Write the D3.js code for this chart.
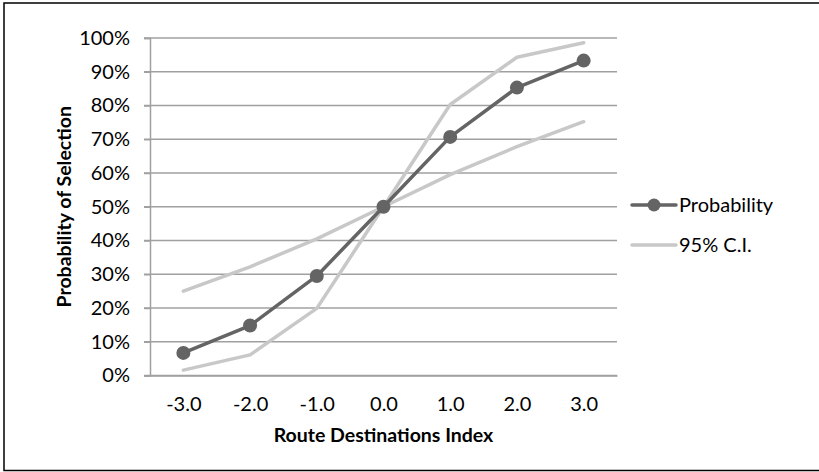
<!DOCTYPE html>
<html>
<head>
<meta charset="utf-8">
<script src="https://cdn.jsdelivr.net/npm/d3@7"></script>
<style>
  html, body { margin: 0; padding: 0; background: #fff; }
  svg { display: block; }
  text { font-family: Lato, "Open Sans", sans-serif; fill: #000; }
</style>
</head>
<body>
<svg id="chart" width="819" height="472"></svg>
<script>
// ---- data ----
const categories = ["-3.0", "-2.0", "-1.0", "0.0", "1.0", "2.0", "3.0"];
const probability = [0.067, 0.148, 0.295, 0.50, 0.707, 0.853, 0.933];
const ciNarrow = [0.25, 0.322, 0.405, 0.50, 0.595, 0.678, 0.752];
const ciWide = [0.016, 0.061, 0.199, 0.50, 0.803, 0.943, 0.986];
const yTicks = [0, 0.1, 0.2, 0.3, 0.4, 0.5, 0.6, 0.7, 0.8, 0.9, 1.0];
const seriesNames = ["Probability", "95% C.I."];

const svg = d3.select("#chart");
const plot = { left: 150, right: 617, top: 38, bottom: 375.5 };

const colDark = "#646464";
const colLight = "#c8c8c8";
const colGrid = "#a0a0a0";
const tickFont = "20px";
const titleFont = "19.5px";

// border
svg.append("rect")
  .attr("x", 4).attr("y", 3)
  .attr("width", 830).attr("height", 467.5)
  .attr("fill", "none").attr("stroke", "#000").attr("stroke-width", 1.5);

const x = d3.scalePoint().domain(categories).range([plot.left, plot.right]).padding(0.5);
const y = d3.scaleLinear().domain([0, 1]).range([plot.bottom, plot.top]);

// gridlines
svg.append("g").selectAll("line")
  .data(yTicks)
  .join("line")
  .attr("x1", plot.left - 6).attr("x2", plot.right)
  .attr("y1", d => y(d)).attr("y2", d => y(d))
  .attr("stroke", colGrid).attr("stroke-width", 1.5);

// y axis
const yAxis = svg.append("g")
  .attr("transform", `translate(${plot.left},0)`)
  .call(d3.axisLeft(y).tickValues(yTicks).tickFormat(d3.format(".0%")).tickSize(6).tickPadding(14));
yAxis.select(".domain").attr("stroke", colGrid).attr("stroke-width", 1.5);
yAxis.selectAll(".tick line").attr("stroke", colGrid).attr("stroke-width", 1.5);
yAxis.selectAll("text").style("font-size", tickFont).style("font-family", "Lato, sans-serif").attr("fill", "#000");

// x axis
const xAxis = svg.append("g")
  .attr("transform", `translate(0,${plot.bottom})`)
  .call(d3.axisBottom(x).tickSize(0).tickPadding(21));
xAxis.select(".domain").attr("stroke", colGrid).attr("stroke-width", 1.5);
xAxis.selectAll("text").style("font-size", tickFont).style("font-family", "Lato, sans-serif").attr("fill", "#000");

// lines
const line = d3.line().x((d, i) => x(categories[i])).y(d => y(d));
[ciNarrow, ciWide].forEach(s => {
  svg.append("path").datum(s)
    .attr("d", line).attr("fill", "none")
    .attr("stroke", colLight).attr("stroke-width", 3.5)
    .attr("stroke-linejoin", "round").attr("stroke-linecap", "round");
});
svg.append("path").datum(probability)
  .attr("d", line).attr("fill", "none")
  .attr("stroke", colDark).attr("stroke-width", 3.5)
  .attr("stroke-linejoin", "round");
svg.append("g").selectAll("circle")
  .data(probability)
  .join("circle")
  .attr("cx", (d, i) => x(categories[i])).attr("cy", d => y(d))
  .attr("r", 7).attr("fill", colDark);

// axis titles
svg.append("text")
  .attr("x", (plot.left + plot.right) / 2).attr("y", 442)
  .attr("text-anchor", "middle")
  .style("font-size", titleFont).style("font-weight", "bold")
  .text("Route Destinations Index");
svg.append("text")
  .attr("transform", `translate(71,${(plot.top + plot.bottom) / 2}) rotate(-90)`)
  .attr("text-anchor", "middle")
  .style("font-size", titleFont).style("font-weight", "bold")
  .text("Probability of Selection");

// legend
const legend = svg.append("g");
const legY = [205, 245];
legend.append("line")
  .attr("x1", 632).attr("x2", 676).attr("y1", legY[0]).attr("y2", legY[0])
  .attr("stroke", colDark).attr("stroke-width", 3.5).attr("stroke-linecap", "round");
legend.append("circle").attr("cx", 654).attr("cy", legY[0]).attr("r", 6.5).attr("fill", colDark);
legend.append("line")
  .attr("x1", 632).attr("x2", 676).attr("y1", legY[1]).attr("y2", legY[1])
  .attr("stroke", colLight).attr("stroke-width", 3.5).attr("stroke-linecap", "round");
seriesNames.forEach((n, i) => {
  legend.append("text")
    .attr("x", 679).attr("y", legY[i]).attr("dy", "0.35em")
    .style("font-size", tickFont)
    .text(n);
});
</script>
</body>
</html>
